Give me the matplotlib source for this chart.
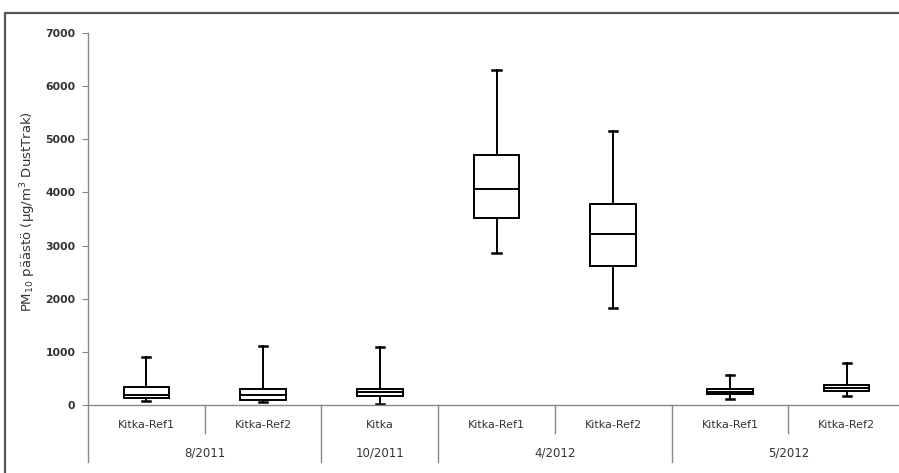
import matplotlib
matplotlib.use("Agg")
import matplotlib.pyplot as plt
from matplotlib.patches import Rectangle
from itertools import groupby

# values (ug/m3)
periods = ["8/2011", "8/2011", "10/2011", "4/2012", "4/2012", "5/2012", "5/2012"]
labels = ["Kitka-Ref1", "Kitka-Ref2", "Kitka", "Kitka-Ref1", "Kitka-Ref2", "Kitka-Ref1", "Kitka-Ref2"]
whis_low = [75, 60, 10, 2860, 1830, 110, 160]
q1 = [140, 100, 175, 3510, 2620, 200, 265]
median = [185, 180, 240, 4060, 3220, 250, 320]
q3 = [335, 305, 295, 4700, 3780, 300, 375]
whis_high = [910, 1110, 1100, 6310, 5160, 560, 790]
yticks = [0, 1000, 2000, 3000, 4000, 5000, 6000, 7000]

W, H = 899, 473
fig = plt.figure(figsize=(W / 100, H / 100), dpi=100)
plt.rcParams['font.family'] = ['DejaVu Sans']

# outer chart frame (cropped at right and bottom in the original)
fig.patches.append(Rectangle((5 / W, -0.1), 1.2, 1 - 13 / H + 0.1, transform=fig.transFigure,
                             fill=False, edgecolor='#555555', linewidth=1.6))

ax = fig.add_axes([88 / W, 1 - 405 / H, 817 / W, 372 / H])

stats = []
for i in range(len(labels)):
    stats.append(dict(whislo=whis_low[i], q1=q1[i], med=median[i], q3=q3[i], whishi=whis_high[i], fliers=[]))

line = dict(color='black', linewidth=1.4)
ax.bxp(stats, positions=range(len(labels)), widths=0.39, capwidths=0.07, patch_artist=True,
       boxprops=dict(facecolor='white', edgecolor='black', linewidth=1.4),
       medianprops=line, whiskerprops=line, capprops=dict(color='black', linewidth=1.8))

ax.set_xlim(-0.5, len(labels) - 0.5)
ax.set_ylim(0, 7000)
ax.set_yticks(yticks)
ax.set_yticklabels([str(t) for t in yticks], fontsize=7.8, fontweight='bold', color='#333333')
ax.tick_params(axis='y', direction='out', length=4, color='#888888', pad=5)
ax.set_xticks([])
for s in ['top', 'right']:
    ax.spines[s].set_visible(False)
for s in ['left', 'bottom']:
    ax.spines[s].set_color('#888888')
    ax.spines[s].set_linewidth(1.0)

ax.set_ylabel("PM$_{10}$ päästö (µg/m$^3$ DustTrak)", fontsize=9.5, color='#333333')
ax.yaxis.set_label_coords(-50 / 817, 0.52)

# two-level category axis
tr = ax.get_xaxis_transform()
px = 1 / 372
for i, lab in enumerate(labels):
    ax.text(i, -20 * px, lab, transform=tr, ha='center', va='center', fontsize=8, color='#333333')

start = 0
for per, grp in groupby(periods):
    n = len(list(grp))
    end = start + n
    ax.text((start + end - 1) / 2, -48 * px, per, transform=tr, ha='center', va='center',
            fontsize=8.5, color='#333333')
    for k in range(start + 1, end):
        ax.plot([k - 0.5, k - 0.5], [0, -28 * px], transform=tr, color='#888888', lw=1, clip_on=False)
    ax.plot([end - 0.5, end - 0.5], [0, -57 * px], transform=tr, color='#888888', lw=1, clip_on=False)
    start = end
ax.plot([-0.5, -0.5], [0, -57 * px], transform=tr, color='#888888', lw=1, clip_on=False)

fig.savefig("out.png", dpi=100)
